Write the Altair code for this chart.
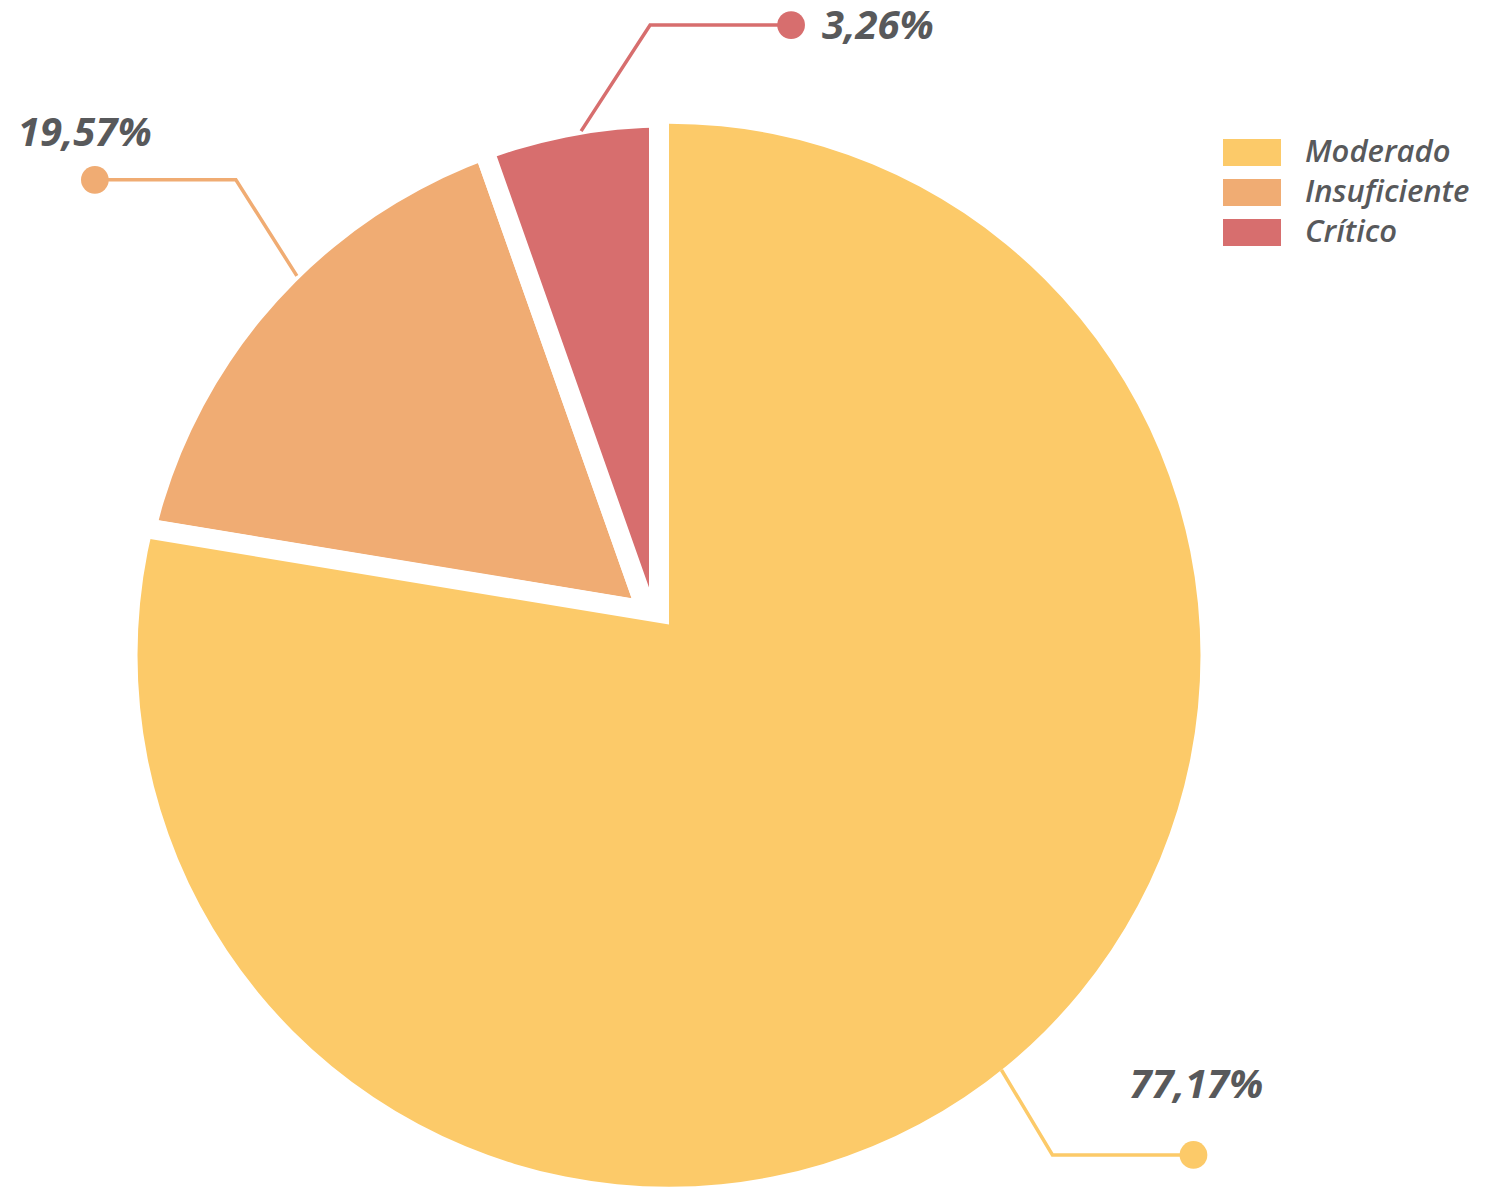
import math
import altair as alt
import pandas as pd

# ---------------- data ----------------
categories = ["Moderado", "Insuficiente", "Crítico"]
shares = [77.6, 17.0, 5.4]            # slice sizes (% of the circle) as drawn
label_values = [77.17, 19.57, 3.26]   # percentages printed beside the slices
colors = ["#FCCA69", "#F0AC73", "#D76E6E"]

# ---------------- layout / style ----------------
TEXT_COLOR = "#58595B"
FONT = "Open Sans"
W, H = 1478, 1188
CX, CY = 661.0, 647.3        # centre of the pie's outer circle
R_BIG = 531.5                # outer radius (Moderado)
R_SMALL = 528.0              # outer radius (other slices)
SLICE_R = 600                # drawing radius before the rim mask
GAP = 20                     # white gap between slices

# apex of each slice relative to the circle centre (slices are slightly pulled)
apex_shift = {"Moderado": (-10.0, -42.5), "Insuficiente": (-22.2, -44.2), "Crítico": (-10.0, -9.4)}
leader_nudge = {"Moderado": 1.6, "Insuficiente": 5.6, "Crítico": 0.2}      # degrees
leader_elbow = {"Moderado": (51, 85), "Insuficiente": (-61, -96), "Crítico": (69, -106)}
leader_arm = {"Moderado": 141, "Insuficiente": -141, "Crítico": 141}
label_offset = {"Moderado": (-64, -57), "Insuficiente": (-77, -34), "Crítico": (31, 14)}

# ---------------- tables ----------------
slices = pd.DataFrame({"categoria": categories, "share": shares, "orden": range(len(categories))})
slices["cx"] = [CX + apex_shift[c][0] for c in categories]
slices["cy"] = [CY + apex_shift[c][1] for c in categories]

leader_rows, dot_rows = [], []
start = 0.0
for cat, sh, val in zip(categories, shares, label_values):
    mid = (start + sh / 2.0) * 3.6 + leader_nudge[cat]
    start += sh
    a = math.radians(mid)
    ax, ay = CX + R_BIG * math.sin(a), CY - R_BIG * math.cos(a)
    ex, ey = ax + leader_elbow[cat][0], ay + leader_elbow[cat][1]
    dx_, dy_ = ex + leader_arm[cat], ey
    for i, (px, py) in enumerate([(ax, ay), (ex, ey), (dx_, dy_)]):
        leader_rows.append({"categoria": cat, "step": i, "px": px, "py": py})
    txt = f"{val:.2f}".replace(".", ",") + "%"
    dot_rows.append({"categoria": cat, "px": dx_, "py": dy_, "label": txt,
                     "lx": dx_ + label_offset[cat][0], "ly": dy_ + label_offset[cat][1]})
leaders = pd.DataFrame(leader_rows)
dots = pd.DataFrame(dot_rows)

color_scale = alt.Scale(domain=categories, range=colors)
legend = alt.Legend(
    title=None, orient="none", legendX=1215, legendY=131,
    symbolType="M-1,-0.4655H1V0.4655H-1Z", symbolSize=3364, symbolStrokeWidth=0,
    symbolOpacity=1, clipHeight=27, rowPadding=8, labelOffset=24, padding=0,
    labelFont=FONT, labelFontSize=31, labelFontStyle="italic", labelFontWeight=600,
    labelColor=TEXT_COLOR, labelLimit=400,
)

base = alt.Chart(slices).transform_window(
    t1="sum(share)", sort=[alt.SortField("orden")]
).transform_calculate(t0="datum.t1 - datum.share")

arc_enc = dict(
    x=alt.X("cx:Q", scale=None, axis=None, stack=False),
    y=alt.Y("cy:Q", scale=None, axis=None, stack=False),
    theta=alt.Theta("t0:Q", scale=alt.Scale(domain=[0, 100], range=[0, 2 * math.pi])),
    theta2=alt.Theta2("t1:Q"),
    color=alt.Color("categoria:N", scale=color_scale, legend=legend),
)

small = base.transform_filter("datum.categoria != 'Moderado'").mark_arc(
    outerRadius=SLICE_R, stroke="white", strokeWidth=GAP, strokeJoin="miter", opacity=1
).encode(**arc_enc)

moder = base.transform_filter("datum.categoria == 'Moderado'").mark_arc(
    outerRadius=SLICE_R, stroke="white", strokeWidth=GAP, strokeJoin="miter", opacity=1
).encode(**arc_enc)

one = pd.DataFrame({"k": [0]})
ring_small = alt.Chart(one).mark_arc(
    innerRadius=R_SMALL, outerRadius=665, theta=0, theta2=math.tau, fill="white", strokeWidth=0
).encode(x=alt.value(CX), y=alt.value(CY))
ring_big = alt.Chart(one).mark_arc(
    innerRadius=R_BIG, outerRadius=665, theta=0, theta2=math.tau, fill="white", strokeWidth=0
).encode(x=alt.value(CX), y=alt.value(CY))

lines = alt.Chart(leaders).mark_line(strokeWidth=3.5).encode(
    x=alt.X("px:Q", scale=None, axis=None),
    y=alt.Y("py:Q", scale=None, axis=None),
    color=alt.Color("categoria:N", scale=color_scale, legend=None),
    order=alt.Order("step:Q"),
)
points = alt.Chart(dots).mark_point(filled=True, shape="circle", size=770, opacity=1, strokeWidth=0).encode(
    x=alt.X("px:Q", scale=None, axis=None),
    y=alt.Y("py:Q", scale=None, axis=None),
    color=alt.Color("categoria:N", scale=color_scale, legend=None),
)
labels = alt.Chart(dots).mark_text(
    font=FONT, fontSize=40, fontStyle="italic", fontWeight="bold", color=TEXT_COLOR,
    align="left", baseline="alphabetic"
).encode(
    x=alt.X("lx:Q", scale=None, axis=None),
    y=alt.Y("ly:Q", scale=None, axis=None),
    text="label:N",
)

chart = alt.layer(small, ring_small, moder, ring_big, lines, points, labels).properties(
    width=W, height=H, autosize=alt.AutoSizeParams(type="none"), padding=0
).configure_view(strokeWidth=0)

chart.save("out.html", embed_options={"renderer": "svg", "actions": False})
